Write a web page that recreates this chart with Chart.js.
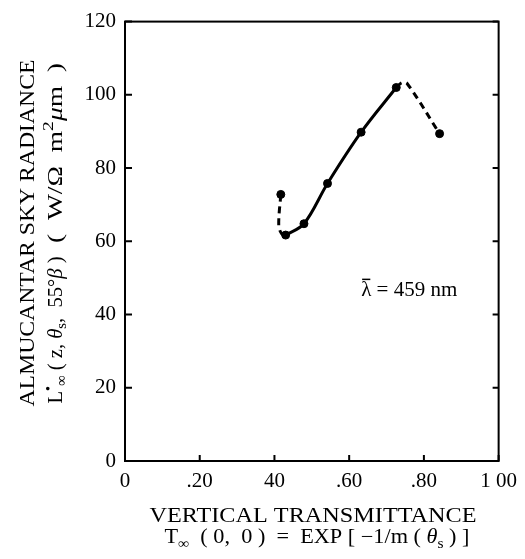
<!DOCTYPE html>
<html>
<head>
<meta charset="utf-8">
<script src="https://cdn.jsdelivr.net/npm/chart.js@4.4.0/dist/chart.umd.min.js"></script>
<style>
  html, body { margin: 0; padding: 0; background: #fff; }
</style>
</head>
<body>
<canvas id="sky-chart" width="525" height="559"></canvas>
<script>
// Measured points (dots on the curve)
const markerX = [0.417, 0.430, 0.479, 0.542, 0.632, 0.726, 0.842];
const markerY = [72.8, 61.7, 64.8, 75.8, 89.8, 102.0, 89.4];

// Solid part of the curve
const solidX = [0.430, 0.479, 0.542, 0.632, 0.726];
const solidY = [61.7, 64.8, 75.8, 89.8, 102.0];

// Dashed lower hook
const dashLowX = [0.417, 0.4115, 0.420, 0.430];
const dashLowY = [72.8, 64.2, 62.0, 61.7];

// Dashed upper tail
const dashHighX = [0.726, 0.741, 0.755, 0.842];
const dashHighY = [102.0, 103.3, 103.1, 89.4];

// Tick labels as printed
const xTickLabels = ['0', '.20', '40', '.60', '.80', '1 00'];
const yTickLabels = ['0', '20', '40', '60', '80', '100', '120'];

const SERIF = '"Liberation Serif", "Times New Roman", serif';

function toPoints(xs, ys) {
    return xs.map((x, i) => ({ x: x, y: ys[i] }));
}

// Draw a run of text pieces (normal / sub / sup) centred on cx,cy,
// stretched sideways to fill the printed width
function drawRich(ctx, parts, cx, cy, size, targetWidth) {
    const fonts = parts.map(p => {
        const s = p.k ? Math.round(size * 0.7) : size;
        return (p.i ? 'italic ' : '') + s + 'px ' + SERIF;
    });
    const widths = parts.map((p, i) => { ctx.font = fonts[i]; return ctx.measureText(p.t).width; });
    const total = widths.reduce((a, b) => a + b, 0);
    ctx.save();
    ctx.translate(cx, cy);
    if (targetWidth) ctx.scale(targetWidth / total, 1);
    let x = -total / 2;
    ctx.textAlign = 'left';
    ctx.textBaseline = 'middle';
    parts.forEach((p, i) => {
        const dy = p.k === 'sub' ? size * 0.3 : p.k === 'sup' ? -size * 0.35 : 0;
        ctx.font = fonts[i];
        ctx.fillText(p.t, x, dy);
        x += widths[i];
    });
    ctx.restore();
}

const framePlugin = {
    id: 'frame',
    afterDraw(chart) {
        const ctx = chart.ctx;
        const a = chart.chartArea;
        const xs = chart.scales.x;
        const ys = chart.scales.y;
        ctx.save();
        ctx.strokeStyle = '#000';
        ctx.fillStyle = '#000';
        ctx.lineWidth = 2;
        ctx.strokeRect(a.left, a.top, a.right - a.left, a.bottom - a.top);

        // inward ticks
        ctx.beginPath();
        ys.ticks.forEach(t => {
            const py = ys.getPixelForValue(t.value);
            ctx.moveTo(a.left, py); ctx.lineTo(a.left + 7, py);
            ctx.moveTo(a.right, py); ctx.lineTo(a.right - 6, py);
        });
        xs.ticks.forEach(t => {
            const px = xs.getPixelForValue(t.value);
            ctx.moveTo(px, a.bottom); ctx.lineTo(px, a.bottom - 6);
        });
        ctx.stroke();

        // y axis title, two rotated lines
        ctx.save();
        ctx.translate(28, 233);
        ctx.rotate(-Math.PI / 2);
        drawRich(ctx, [{ t: 'ALMUCANTAR SKY RADIANCE' }], 0, 0, 22, 347);
        ctx.restore();

        ctx.save();
        ctx.translate(56, 330);
        ctx.rotate(-Math.PI / 2);
        drawRich(ctx, [
            { t: 'L' }, { t: '\u2022', k: 'sup' }, { t: '\u221e', k: 'sub' },
            { t: ' ( z, ' }, { t: '\u03b8', i: true }, { t: 's', k: 'sub' },
            { t: ',  55\u00b0' }, { t: '\u03b2', i: true }, { t: ' )' }
        ], 0, 0, 21, 147);
        ctx.restore();

        ctx.save();
        ctx.translate(56, 153);
        ctx.rotate(-Math.PI / 2);
        drawRich(ctx, [
            { t: '(  W/\u03a9  m' }, { t: '2', k: 'sup' }, { t: '\u03bc', i: true }, { t: 'm  )' }
        ], 0, 0, 21, 180);
        ctx.restore();

        // x axis title
        drawRich(ctx, [{ t: 'VERTICAL TRANSMITTANCE' }], 313, 516, 21, 327);
        drawRich(ctx, [
            { t: 'T' }, { t: '\u221e', k: 'sub' }, { t: '  ( 0,  0 )  =  EXP [ \u22121/m ( ' },
            { t: '\u03b8', i: true }, { t: 's', k: 'sub' }, { t: ' ) ]' }
        ], 317, 538, 20, 305);

        // wavelength note
        const lx = xs.getPixelForValue(0.632);
        const ly = ys.getPixelForValue(46.6);
        ctx.font = '21px ' + SERIF;
        ctx.textAlign = 'left';
        ctx.textBaseline = 'middle';
        ctx.fillText('\u03bb = 459 nm', lx, ly);
        const lw = ctx.measureText('\u03bb').width;
        ctx.lineWidth = 1.5;
        ctx.beginPath();
        ctx.moveTo(lx + 1, ly - 11);
        ctx.lineTo(lx + lw - 1, ly - 11);
        ctx.stroke();
        ctx.restore();
    }
};

const lineStyle = {
    showLine: true,
    borderColor: '#000',
    borderWidth: 3,
    pointRadius: 0,
    tension: 0.35,
    fill: false
};

new Chart(document.getElementById('sky-chart').getContext('2d'), {
    type: 'scatter',
    data: {
        datasets: [
            Object.assign({ data: toPoints(solidX, solidY) }, lineStyle),
            Object.assign({ data: toPoints(dashLowX, dashLowY), borderDash: [7, 5] }, lineStyle),
            Object.assign({ data: toPoints(dashHighX, dashHighY), borderDash: [7, 5] }, lineStyle),
            {
                data: toPoints(markerX, markerY),
                showLine: false,
                pointRadius: 4,
                pointBackgroundColor: '#000',
                pointBorderColor: '#000'
            }
        ]
    },
    options: {
        responsive: false,
        animation: false,
        devicePixelRatio: 1,
        layout: { padding: { left: 0, top: 14, right: 20, bottom: 0 } },
        plugins: {
            legend: { display: false },
            tooltip: { enabled: false }
        },
        scales: {
            x: {
                type: 'linear',
                min: 0,
                max: 1,
                grid: { display: false, drawTicks: false },
                border: { display: false },
                ticks: {
                    stepSize: 0.2,
                    padding: 8,
                    color: '#000',
                    font: { family: SERIF, size: 21 },
                    maxRotation: 0,
                    callback: (v, i) => xTickLabels[i]
                },
                afterFit: s => { s.height = 98; }
            },
            y: {
                min: 0,
                max: 120,
                grid: { display: false, drawTicks: false },
                border: { display: false },
                ticks: {
                    stepSize: 20,
                    padding: 9,
                    color: '#000',
                    font: { family: SERIF, size: 21 },
                    callback: (v, i) => yTickLabels[i]
                },
                afterFit: s => { s.width = 125; }
            }
        }
    },
    plugins: [framePlugin]
});
</script>
</body>
</html>
